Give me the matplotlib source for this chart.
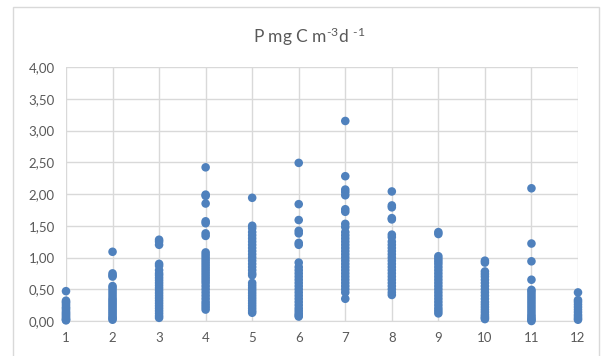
import matplotlib
matplotlib.use('Agg')
import matplotlib.pyplot as plt
from matplotlib.ticker import FuncFormatter, MultipleLocator
from matplotlib.patches import Rectangle

plt.rcParams['font.family'] = ['Lato', 'DejaVu Sans']
plt.rcParams['mathtext.fontset'] = 'custom'
plt.rcParams['mathtext.rm'] = 'Lato'
plt.rcParams['mathtext.it'] = 'Lato'

# 各月数据
m1 = [0.47, 0.32, 0.30, 0.28, 0.25, 0.22, 0.20, 0.18, 0.15, 0.13, 0.11, 0.09, 0.07, 0.05, 0.03, 0.02, 0.01]
m2 = [1.09, 0.75, 0.72, 0.70, 0.55, 0.52, 0.48, 0.44, 0.40, 0.36, 0.33, 0.30, 0.27, 0.24, 0.21,
      0.18, 0.15, 0.12, 0.09, 0.06, 0.04, 0.02]
m3 = [1.28, 1.25, 1.20, 0.90, 0.87, 0.80, 0.75, 0.72, 0.68, 0.64, 0.60, 0.56, 0.52, 0.48, 0.44,
      0.40, 0.36, 0.32, 0.28, 0.24, 0.20, 0.16, 0.12, 0.08, 0.05]
m4 = [2.42, 1.99, 1.97, 1.85, 1.57, 1.54, 1.38, 1.34, 1.08, 1.04, 1.00, 0.96, 0.92, 0.88, 0.84,
      0.80, 0.76, 0.72, 0.68, 0.64, 0.60, 0.55, 0.50, 0.45, 0.40, 0.35, 0.30, 0.26, 0.22, 0.18]
m5 = [1.94, 1.50, 1.46, 1.40, 1.35, 1.30, 1.25, 1.20, 1.15, 1.10, 1.05, 1.00, 0.95, 0.90, 0.85,
      0.80, 0.75, 0.72, 0.60, 0.56, 0.52, 0.48, 0.44, 0.40, 0.36, 0.32, 0.28, 0.24, 0.20, 0.16, 0.13]
m6 = [2.49, 1.84, 1.59, 1.42, 1.38, 1.23, 1.20, 0.92, 0.85, 0.80, 0.75, 0.70, 0.65, 0.60, 0.55,
      0.50, 0.45, 0.40, 0.35, 0.30, 0.25, 0.20, 0.16, 0.12, 0.09, 0.07]
m7 = [3.15, 2.28, 2.07, 2.03, 1.98, 1.76, 1.72, 1.53, 1.48, 1.40, 1.35, 1.30, 1.25, 1.20, 1.15,
      1.10, 1.05, 1.00, 0.95, 0.90, 0.85, 0.80, 0.75, 0.70, 0.65, 0.60, 0.55, 0.50, 0.45, 0.35]
m8 = [2.04, 1.82, 1.79, 1.62, 1.60, 1.36, 1.32, 1.25, 1.20, 1.15, 1.10, 1.05, 1.00, 0.95, 0.90,
      0.85, 0.80, 0.75, 0.70, 0.65, 0.60, 0.55, 0.50, 0.45, 0.41]
m9 = [1.40, 1.37, 1.02, 0.98, 0.94, 0.90, 0.85, 0.80, 0.75, 0.70, 0.65, 0.60, 0.55, 0.50, 0.45,
      0.40, 0.35, 0.30, 0.25, 0.20, 0.16, 0.12]
m10 = [0.95, 0.92, 0.78, 0.74, 0.70, 0.65, 0.60, 0.55, 0.50, 0.45, 0.40, 0.35, 0.30, 0.26, 0.22,
       0.18, 0.14, 0.10, 0.07, 0.05, 0.03]
m11 = [2.09, 1.22, 0.94, 0.65, 0.49, 0.46, 0.42, 0.38, 0.34, 0.30, 0.26, 0.22, 0.18, 0.14, 0.10,
       0.07, 0.04, 0.02, 0.0]
m12 = [0.45, 0.33, 0.30, 0.26, 0.22, 0.18, 0.14, 0.10, 0.07, 0.04, 0.02]

months = [1, 2, 3, 4, 5, 6, 7, 8, 9, 10, 11, 12]
series = [m1, m2, m3, m4, m5, m6, m7, m8, m9, m10, m11, m12]

fig = plt.figure(figsize=(6.05, 3.56), dpi=100)
# 外框
fig.patches.append(Rectangle((13 / 605, -0.1), 586 / 605, 1.1 - 7 / 356, transform=fig.transFigure,
                             fill=False, edgecolor='#d9d9d9', linewidth=1))

ax = fig.add_axes([66 / 605, 1 - 321 / 356, 512 / 605, 254 / 356])

xs, ys = [], []
for m, vals in zip(months, series):
    xs += [m] * len(vals)
    ys += vals
ax.scatter(xs, ys, s=38, color='#4f81bd', edgecolors='none', clip_on=False, zorder=3)

ax.set_xlim(1, 12)
ax.set_ylim(0, 4)
ax.xaxis.set_major_locator(MultipleLocator(1))
ax.yaxis.set_major_locator(MultipleLocator(0.5))
ax.yaxis.set_major_formatter(FuncFormatter(lambda v, p: f'{v:.2f}'.replace('.', ',')))
ax.grid(True, color='#d9d9d9', linewidth=1)
ax.set_axisbelow(True)
for s in ['top', 'right', 'left']:
    ax.spines[s].set_visible(False)
ax.spines['bottom'].set_color('#d9d9d9')
ax.tick_params(length=0, labelsize=9.5, labelcolor='#595959', pad=8)

fig.text(309 / 605, 1 - 37 / 356, 'P mg C m$^{\u20103}$d $^{\u20101}$', ha='center', va='center',
         fontsize=12.5, color='#595959')

fig.savefig('out.png', dpi=100)
